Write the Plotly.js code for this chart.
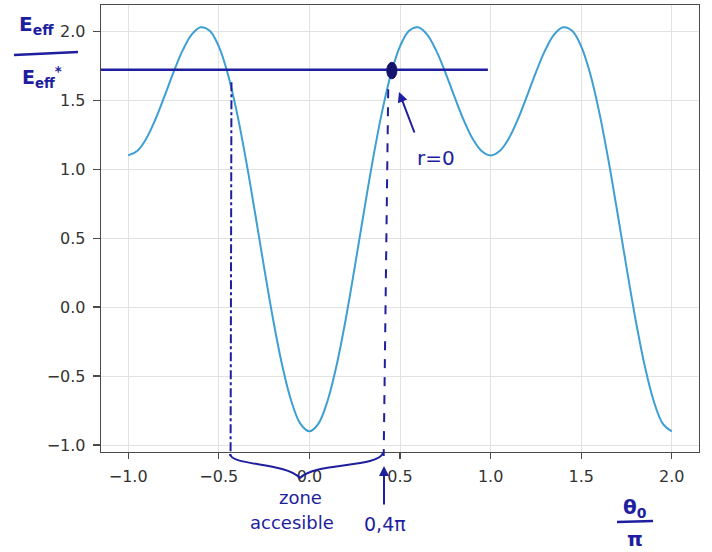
<!DOCTYPE html>
<html>
<head>
<meta charset="utf-8">
<script src="https://cdn.plot.ly/plotly-3.0.1.min.js"></script>
<style>html,body{margin:0;padding:0;background:#fff;}#chart{width:712px;height:552px;}</style>
</head>
<body>
<div id="chart"></div>
<script>
// theta0 / pi
const theta = [-1.00,-0.95,-0.90,-0.85,-0.80,-0.75,-0.70,-0.65,-0.60,-0.55,-0.50,-0.45,-0.40,-0.35,-0.30,-0.25,-0.20,-0.15,-0.10,-0.05,
  0.00,0.05,0.10,0.15,0.20,0.25,0.30,0.35,0.40,0.45,0.50,0.55,0.60,0.65,0.70,0.75,0.80,0.85,0.90,0.95,
  1.00,1.05,1.10,1.15,1.20,1.25,1.30,1.35,1.40,1.45,1.50,1.55,1.60,1.65,1.70,1.75,1.80,1.85,1.90,1.95,2.00];
// E_eff / E_eff*
const energy = [1.100,1.132,1.222,1.360,1.527,1.702,1.859,1.975,2.028,2.003,1.890,1.690,1.410,1.067,0.684,0.288,-0.091,-0.422,-0.680,-0.844,
  -0.900,-0.844,-0.680,-0.422,-0.091,0.288,0.684,1.067,1.410,1.690,1.890,2.003,2.028,1.975,1.859,1.702,1.527,1.360,1.222,1.132,
  1.100,1.132,1.222,1.360,1.527,1.702,1.859,1.975,2.028,2.003,1.890,1.690,1.410,1.067,0.684,0.288,-0.091,-0.422,-0.680,-0.844,-0.900];
const xTicks = [-1.0,-0.5,0.0,0.5,1.0,1.5,2.0];
const yTicks = [-1.0,-0.5,0.0,0.5,1.0,1.5,2.0];
// hand-drawn annotations (data units)
const energyLevel = 1.72;
const levelEnd = 0.985;
const turnPoint = 0.455;
const zoneLeft = -0.43;
const zoneRight = 0.41;

const ink = '#1e1e9e';
const dotInk = '#15156e';
const X0 = -1.15, X1 = 2.15, Y0 = -1.05, Y1 = 2.19;
// pixel -> paper helpers for hand-written marks outside the axes
const L = 101, R = 699, T = 5, B = 452;
const px = x => (x - L) / (R - L);
const py = y => (B - y) / (B - T);
const vy = v => (v - Y0) / (Y1 - Y0);

const curve = {
  x: theta, y: energy, type: 'scatter', mode: 'lines',
  line: {color: '#3d9fd3', width: 2, shape: 'spline', smoothing: 1},
  hoverinfo: 'x+y'
};

const handFont = {family: 'DejaVu Sans', color: ink, size: 18};
function label(xp, yp, text, font) {
  return {xref: 'paper', yref: 'paper', x: px(xp), y: py(yp), text: text, showarrow: false,
          xanchor: 'center', yanchor: 'middle', font: font};
}
const tickFont = {family: 'DejaVu Sans', size: 16, color: '#333333'};

const layout = {
  width: 712, height: 552,
  margin: {l: L, r: 712 - R, t: T, b: 552 - B},
  paper_bgcolor: '#ffffff', plot_bgcolor: '#ffffff',
  showlegend: false,
  xaxis: {
    range: [X0, X1], tickvals: xTicks, tickformat: '.1f',
    showgrid: true, gridcolor: '#e2e2e2', zeroline: false,
    showline: true, mirror: true, linecolor: '#4a4a4a', linewidth: 1.3,
    ticks: 'outside', ticklen: 6, tickwidth: 1.3, tickcolor: '#4a4a4a',
    ticklabelstandoff: 3, tickfont: tickFont
  },
  yaxis: {
    range: [Y0, Y1], tickvals: yTicks, tickformat: '.1f',
    showgrid: true, gridcolor: '#e2e2e2', zeroline: false,
    showline: true, mirror: true, linecolor: '#4a4a4a', linewidth: 1.3,
    ticks: 'outside', ticklen: 7, tickwidth: 1.3, tickcolor: '#4a4a4a',
    ticklabelstandoff: 4, tickfont: tickFont
  },
  shapes: [
    // horizontal energy level
    {type: 'line', xref: 'x', yref: 'y', x0: X0, x1: levelEnd, y0: energyLevel, y1: energyLevel,
     line: {color: ink, width: 2.5}},
    // turning point dot
    {type: 'circle', xref: 'x', yref: 'y', x0: turnPoint - 0.028, x1: turnPoint + 0.028,
     y0: energyLevel - 0.065, y1: energyLevel + 0.055, fillcolor: dotInk, line: {color: dotInk, width: 1}},
    // dashed verticals
    {type: 'line', xref: 'x', yref: 'paper', x0: zoneLeft, x1: zoneLeft - 0.005, y0: vy(1.63), y1: py(456),
     line: {color: ink, width: 2, dash: 'dashdot'}},
    {type: 'line', xref: 'x', yref: 'paper', x0: zoneRight + 0.025, x1: zoneRight, y0: vy(1.58), y1: py(456),
     line: {color: ink, width: 2, dash: 'dash'}},
    // brace below axis
    {type: 'path', xref: 'paper', yref: 'paper',
     path: 'M ' + px(230) + ' ' + py(454) +
           ' C ' + px(231) + ' ' + py(466) + ', ' + px(285) + ' ' + py(462) + ', ' + px(300) + ' ' + py(478) +
           ' C ' + px(315) + ' ' + py(462) + ', ' + px(378) + ' ' + py(468) + ', ' + px(383) + ' ' + py(453),
     line: {color: ink, width: 2}},
    // fraction bars
    {type: 'line', xref: 'paper', yref: 'paper', x0: px(14), x1: px(78), y0: py(55), y1: py(52),
     line: {color: ink, width: 2.5}},
    {type: 'line', xref: 'paper', yref: 'paper', x0: px(617), x1: px(653), y0: py(522), y1: py(521),
     line: {color: ink, width: 2.5}}
  ],
  annotations: [
    // r=0 arrow + text
    {xref: 'paper', yref: 'paper', x: px(399), y: py(92), text: '', showarrow: true,
     ax: 16, ay: 42, arrowcolor: ink, arrowwidth: 2, arrowhead: 2, arrowsize: 1},
    label(436, 158, 'r=0', {family: 'DejaVu Sans', color: ink, size: 20}),
    // 0,4 pi arrow + text
    {xref: 'paper', yref: 'paper', x: px(384), y: py(466), text: '', showarrow: true,
     ax: 0, ay: 40, arrowcolor: ink, arrowwidth: 2, arrowhead: 2, arrowsize: 1},
    label(385, 524, '0,4π', {family: 'DejaVu Sans', color: ink, size: 19}),
    // zone accesible
    label(300, 497, 'zone', handFont),
    label(292, 522, 'accesible', handFont),
    // y label
    label(36, 25, '<b>E<sub>eff</sub></b>', {family: 'DejaVu Sans', color: ink, size: 20}),
    label(42, 77, '<b>E<sub>eff</sub><sup>*</sup></b>', {family: 'DejaVu Sans', color: ink, size: 19}),
    // x label
    label(635, 508, '<b>θ<sub>0</sub></b>', {family: 'DejaVu Sans', color: ink, size: 20}),
    label(635, 539, '<b>π</b>', {family: 'DejaVu Sans', color: ink, size: 20})
  ]
};

Plotly.newPlot('chart', [curve], layout, {staticPlot: true, displayModeBar: false});
</script>
</body>
</html>
